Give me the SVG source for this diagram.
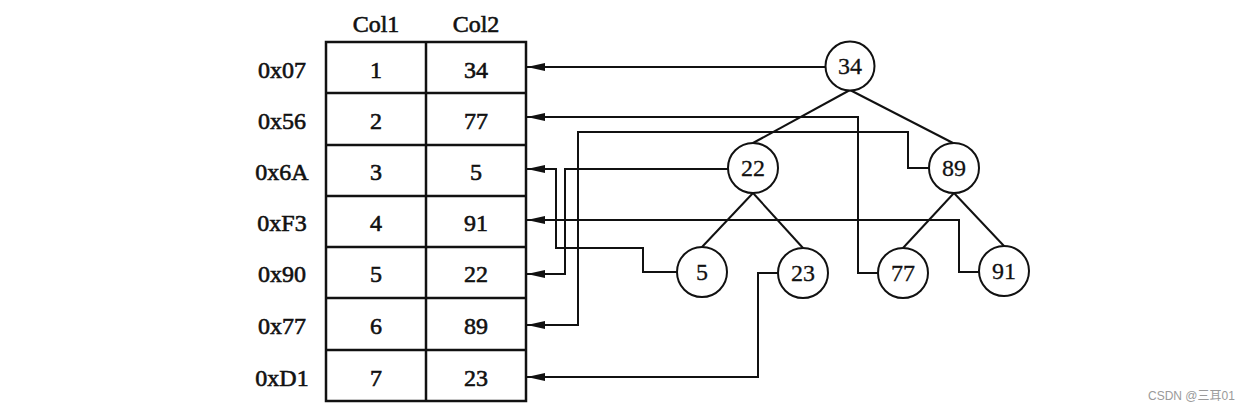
<svg xmlns="http://www.w3.org/2000/svg" width="1259" height="412" viewBox="0 0 1259 412">
<style>
.t{font-family:"Liberation Serif","Times New Roman",serif;font-size:24px;fill:#111;stroke:#111;stroke-width:0.6;text-anchor:middle}
.n{font-family:"Liberation Serif","Times New Roman",serif;font-size:24px;fill:#111;stroke:#111;stroke-width:0.3;text-anchor:middle}
.c{fill:#fff;stroke:#111;stroke-width:2}
.g{fill:none;stroke:#111;stroke-width:2.5}
.e{fill:none;stroke:#111;stroke-width:2}
.w{font-family:"Liberation Sans",Arial,"Noto Sans CJK SC",sans-serif;font-size:12px;fill:#9a9a9a}
</style>
<defs>
<marker id="ah" viewBox="0 0 18 8" refX="18" refY="4" markerWidth="18" markerHeight="8" markerUnits="userSpaceOnUse" orient="auto">
<path d="M0,0 L18,4 L0,8 z" fill="#111"/>
</marker>
</defs>
<rect width="1259" height="412" fill="#fff"/>
<g id="table">
<text class="t" x="376" y="32">Col1</text>
<text class="t" x="476" y="32">Col2</text>
<rect class="g" x="326" y="42" width="200" height="359"/>
<line class="g" x1="426" y1="42" x2="426" y2="401"/>
<line class="g" x1="326" y1="93" x2="526" y2="93"/>
<line class="g" x1="326" y1="145" x2="526" y2="145"/>
<line class="g" x1="326" y1="196" x2="526" y2="196"/>
<line class="g" x1="326" y1="247" x2="526" y2="247"/>
<line class="g" x1="326" y1="298" x2="526" y2="298"/>
<line class="g" x1="326" y1="350" x2="526" y2="350"/>
<text class="t" x="282" y="78">0x07</text><text class="t" x="376" y="78">1</text><text class="t" x="476" y="78">34</text>
<text class="t" x="282" y="129">0x56</text><text class="t" x="376" y="129">2</text><text class="t" x="476" y="129">77</text>
<text class="t" x="282" y="180">0x6A</text><text class="t" x="376" y="180">3</text><text class="t" x="476" y="180">5</text>
<text class="t" x="282" y="231">0xF3</text><text class="t" x="376" y="231">4</text><text class="t" x="476" y="231">91</text>
<text class="t" x="282" y="282">0x90</text><text class="t" x="376" y="282">5</text><text class="t" x="476" y="282">22</text>
<text class="t" x="282" y="334">0x77</text><text class="t" x="376" y="334">6</text><text class="t" x="476" y="334">89</text>
<text class="t" x="282" y="386">0xD1</text><text class="t" x="376" y="386">7</text><text class="t" x="476" y="386">23</text>
</g>
<g id="connectors">
<line class="e" x1="850" y1="90" x2="753" y2="143"/>
<line class="e" x1="850" y1="90" x2="953" y2="143"/>
<line class="e" x1="753" y1="193" x2="702" y2="247"/>
<line class="e" x1="753" y1="193" x2="803" y2="248"/>
<line class="e" x1="954" y1="193" x2="903" y2="248"/>
<line class="e" x1="954" y1="193" x2="1004" y2="246"/>
<path class="e" marker-end="url(#ah)" d="M825,67 L527,67"/>
<path class="e" marker-end="url(#ah)" d="M878,273 L858,273 L858,117 L527,117"/>
<path class="e" marker-end="url(#ah)" d="M677,272 L643,272 L643,248 L556,248 L556,169 L527,169"/>
<path class="e" marker-end="url(#ah)" d="M979,272 L959,272 L959,220 L527,220"/>
<path class="e" marker-end="url(#ah)" d="M728,169 L565,169 L565,274 L527,274"/>
<path class="e" marker-end="url(#ah)" d="M929,168 L908,168 L908,132 L578,132 L578,325 L527,325"/>
<path class="e" marker-end="url(#ah)" d="M778,273 L758,273 L758,377 L527,377"/>
</g>
<g id="n34"><circle class="c" cx="850" cy="66" r="24.5"/><text class="n" x="850" y="74">34</text></g>
<g id="n22"><circle class="c" cx="753" cy="168" r="25"/><text class="n" x="753" y="176">22</text></g>
<g id="n89"><circle class="c" cx="954" cy="168" r="25"/><text class="n" x="954" y="176">89</text></g>
<g id="n5"><circle class="c" cx="702" cy="272" r="25"/><text class="n" x="702" y="280">5</text></g>
<g id="n23"><circle class="c" cx="803" cy="273" r="25"/><text class="n" x="803" y="281">23</text></g>
<g id="n77"><circle class="c" cx="903" cy="273" r="25"/><text class="n" x="903" y="281">77</text></g>
<g id="n91"><circle class="c" cx="1004" cy="271" r="25"/><text class="n" x="1004" y="279">91</text></g>
<text class="w" x="1148" y="400">CSDN @三耳01</text>
</svg>
